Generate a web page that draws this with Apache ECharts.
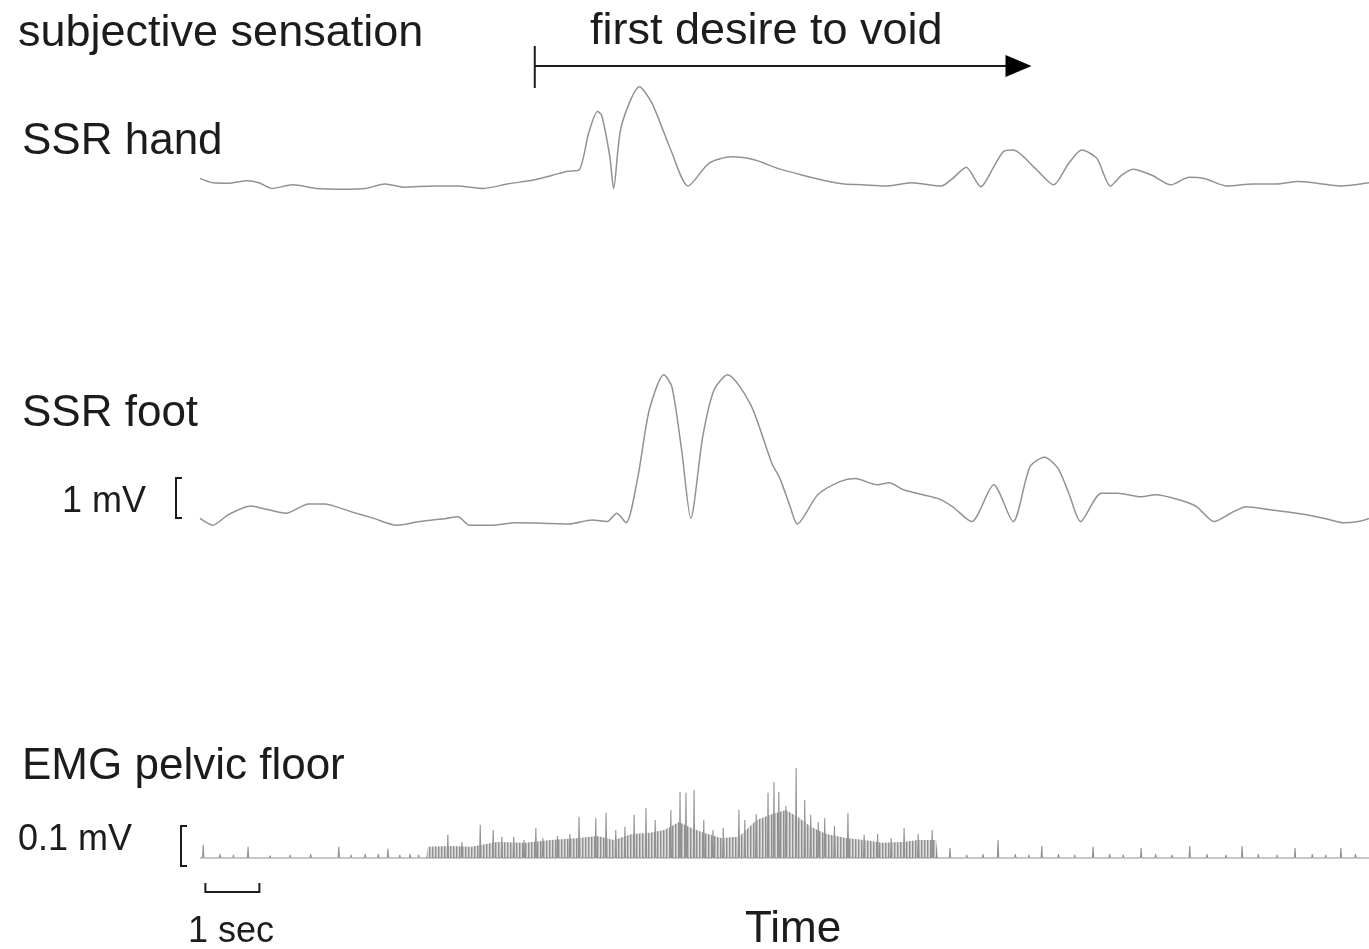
<!DOCTYPE html>
<html>
<head>
<meta charset="utf-8">
<title>SSR and EMG during bladder filling</title>
<script src="https://cdn.jsdelivr.net/npm/echarts@6/dist/echarts.min.js"></script>
<style>
    html, body { margin: 0; background: #fff; }
    #chart { width: 1369px; height: 949px; }
</style>
</head>
<body>
<div id="chart"></div>
<script>
// time in seconds from the start of the trace, amplitudes in mV
const handTime = [0, 0.24, 0.52, 0.87, 1.09, 1.33, 1.72, 2.15, 2.65, 3.07, 3.43, 3.78, 4.33, 4.76, 5.26, 5.69,
    6.18, 6.53, 6.81, 7.02, 7.2, 7.36, 7.44, 7.59, 7.66, 7.8, 8.14, 8.37, 8.72, 9.04, 9.43, 9.85, 10.28, 10.7,
    11.16, 11.65, 11.93, 12.27, 12.69, 13.18, 13.73, 13.94, 14.19, 14.46, 14.7, 14.88, 15.06, 15.47, 15.81,
    16.09, 16.33, 16.61, 16.86, 17.07, 17.28, 17.63, 17.98, 18.32, 18.6, 19.02, 19.5, 19.93, 20.33, 20.69, 21.11, 21.65];
const handMv = [0.14, 0.03, 0.02, 0.08, 0.03, -0.11, -0.02, -0.11, -0.13, -0.11, 0, -0.08, -0.05, -0.05, -0.11, 0,
    0.1, 0.22, 0.32, 0.35, 1.28, 1.81, 1.72, 0.68, -0.11, 1.43, 2.43, 2.02, 0.85, -0.05, 0.52, 0.68, 0.6, 0.39,
    0.22, 0.06, 0, -0.02, -0.05, 0.03, -0.05, 0.14, 0.42, -0.07, 0.43, 0.81, 0.85, 0.39, -0.02,
    0.52, 0.85, 0.64, -0.05, 0.22, 0.37, 0.22, -0.02, 0.17, 0.14, -0.05, 0, 0, 0.06, 0.02, -0.05, 0.03];

const footTime = [0, 0.24, 0.52, 0.94, 1.23, 1.59, 2.01, 2.3, 2.79, 3.22, 3.64, 4.07, 4.56, 4.78, 4.99, 5.41,
    5.84, 6.33, 6.83, 7.26, 7.54, 7.72, 7.89, 8.11, 8.32, 8.59, 8.74, 8.92, 9.09, 9.31, 9.52, 9.77, 10.2,
    10.59, 10.74, 10.93, 11.06, 11.44, 11.85, 12.13, 12.55, 12.76, 13.04, 13.66, 13.94, 14.29, 14.7, 15.06,
    15.37, 15.64, 15.89, 16.09, 16.31, 16.69, 17.0, 17.42, 17.7, 18.19, 18.46, 18.78, 19.09, 19.37, 19.85,
    20.41, 20.83, 21.18, 21.45, 21.65];
const footMv = [0.04, -0.13, 0.13, 0.35, 0.27, 0.17, 0.4, 0.4, 0.21, 0.04, -0.13, -0.04, 0.04, 0.08, -0.13, -0.13,
    -0.07, -0.08, -0.1, 0, -0.04, 0.17, -0.07, 1.08, 2.75, 3.63, 3.33, 1.75, 0.04, 2.08, 3.25, 3.63, 2.88,
    1.42, 1.04, 0.33, -0.1, 0.63, 0.96, 1.04, 0.88, 0.93, 0.75, 0.54, 0.33, -0.04, 0.88, -0.04,
    1.33, 1.57, 1.29, 0.67, -0.04, 0.67, 0.67, 0.58, 0.63, 0.48, 0.33, -0.04, 0.17, 0.33, 0.25,
    0.15, 0.04, -0.07, -0.04, 0.04];

// EMG: single discharges and the dense interference band
const emgSpikeTime = [0.06, 0.37, 0.62, 0.89, 1.3, 1.67, 2.05, 2.57, 2.8, 3.06, 3.3, 3.48, 3.7, 3.89, 4.05,
    4.59, 4.85, 5.19, 5.43, 5.59, 5.81, 6.0, 6.22, 6.35, 6.62, 6.85, 7.02, 7.33, 7.52, 7.7, 7.87, 8.04, 8.26,
    8.43, 8.72, 8.89, 9.0, 9.15, 9.33, 9.5, 9.69, 9.98, 10.09, 10.3, 10.52, 10.63, 10.72, 10.85, 11.04, 11.2,
    11.31, 11.45, 11.57, 11.75, 12.0, 12.3, 12.55, 12.8, 13.04, 13.3, 13.56,
    13.89, 14.2, 14.5, 14.78, 15.1, 15.35, 15.59, 15.9, 16.2, 16.54, 16.85, 17.1, 17.43, 17.7, 18.0, 18.33,
    18.65, 19.0, 19.3, 19.6, 19.95, 20.28, 20.6, 20.85, 21.13, 21.4];
const emgSpikeMv = [0.033, 0.01, 0.008, 0.028, 0.006, 0.008, 0.01, 0.028, 0.008, 0.01, 0.01, 0.023, 0.008, 0.01, 0.008,
    0.058, 0.04, 0.083, 0.07, 0.053, 0.053, 0.045, 0.075, 0.05, 0.055, 0.06, 0.103, 0.1, 0.113, 0.07, 0.078, 0.108, 0.125,
    0.095, 0.12, 0.165, 0.163, 0.17, 0.095, 0.07, 0.075, 0.12, 0.095, 0.11, 0.163, 0.19, 0.165, 0.13, 0.225, 0.145,
    0.108, 0.09, 0.1, 0.08, 0.113, 0.058, 0.06, 0.05, 0.075, 0.06, 0.07,
    0.025, 0.008, 0.01, 0.045, 0.01, 0.008, 0.03, 0.01, 0.008, 0.028, 0.01, 0.008, 0.025, 0.01, 0.008, 0.03,
    0.01, 0.008, 0.03, 0.01, 0.008, 0.025, 0.01, 0.008, 0.025, 0.01];
const emgBandTime = [4.19, 4.22, 4.6, 5.02, 5.5, 6.02, 6.5, 7.02, 7.35, 7.67, 8.0, 8.33, 8.6, 8.87, 9.1, 9.33,
    9.65, 9.98, 10.31, 10.6, 10.85, 11.1, 11.31, 11.6, 11.96, 12.3, 12.63, 13.0, 13.3, 13.63, 13.67];
const emgBandMv = [0, 0.028, 0.03, 0.028, 0.04, 0.038, 0.045, 0.05, 0.055, 0.045, 0.06, 0.063, 0.07, 0.09, 0.075, 0.063,
    0.05, 0.053, 0.095, 0.11, 0.12, 0.1, 0.078, 0.06, 0.05, 0.045, 0.038, 0.04, 0.045, 0.045, 0];

const traceLabels = ['SSR hand', 'SSR foot', 'EMG pelvic floor'];
const sensation = { label: 'subjective sensation', event: 'first desire to void', from: 6.2, to: 15.4 };
const scaleBars = { ssr: 1, emg: 0.1, time: 1 };

const duration = 21.65;
const traceColor = '#929292';
const ink = '#1c1c1c';
const fontFamily = '"Liberation Sans", Arial, Helvetica, sans-serif';
const bigFont = `44px ${fontFamily}`;
const headFont = `45px ${fontFamily}`;
const smallFont = `36px ${fontFamily}`;

const zip = (xs, ys) => xs.map((x, i) => [x, ys[i]]);

const emgLine = [[0, 0]];
emgSpikeTime.forEach((t, i) => {
    emgLine.push([t - 0.012, 0], [t, emgSpikeMv[i]], [t + 0.012, 0]);
});
emgLine.push([duration, 0]);

// vertical hatch that mimics the dense EMG interference pattern
const hatch = document.createElement('canvas');
hatch.width = 3;
hatch.height = 2;
const hctx = hatch.getContext('2d');
hctx.fillStyle = '#8f8f8f';
hctx.fillRect(0, 0, 1, 2);
hctx.fillStyle = '#bcbcbc';
hctx.fillRect(1, 0, 1, 2);
hctx.fillStyle = '#dedede';
hctx.fillRect(2, 0, 1, 2);

const chart = echarts.init(document.getElementById('chart'), null, { renderer: 'canvas' });

const xAxis = [0, 1, 2].map((gridIndex) => ({
    type: 'value', gridIndex, min: 0, max: duration, show: false,
}));

chart.setOption({
    animation: false,
    backgroundColor: '#ffffff',
    grid: [
        { left: 200, right: 0, top: 60, height: 160 },
        { left: 200, right: 0, top: 340, height: 220 },
        { left: 200, right: 0, top: 740, height: 140 },
    ],
    xAxis,
    yAxis: [
        { type: 'value', gridIndex: 0, min: -0.9, max: 3.1, show: false },
        { type: 'value', gridIndex: 1, min: -1.0, max: 4.5, show: false },
        { type: 'value', gridIndex: 2, min: -0.055, max: 0.295, show: false },
    ],
    series: [
        {
            name: traceLabels[0], type: 'line', xAxisIndex: 0, yAxisIndex: 0,
            data: zip(handTime, handMv), showSymbol: false, smooth: 0.25,
            lineStyle: { color: traceColor, width: 1.5 },
        },
        {
            name: traceLabels[1], type: 'line', xAxisIndex: 1, yAxisIndex: 1,
            data: zip(footTime, footMv), showSymbol: false, smooth: 0.25,
            lineStyle: { color: traceColor, width: 1.5 },
        },
        {
            name: traceLabels[2] + ' band', type: 'line', xAxisIndex: 2, yAxisIndex: 2,
            data: zip(emgBandTime, emgBandMv), showSymbol: false,
            lineStyle: { width: 0 },
            areaStyle: { color: { image: hatch, repeat: 'repeat' }, opacity: 1, origin: 0 },
            z: 1,
        },
        {
            name: traceLabels[2], type: 'line', xAxisIndex: 2, yAxisIndex: 2,
            data: emgLine, showSymbol: false,
            lineStyle: { color: traceColor, width: 1.1 },
            z: 2,
        },
    ],
});

const px = (grid, point) => chart.convertToPixel({ xAxisIndex: grid, yAxisIndex: grid }, point);

const text = (str, x, y, font) => ({
    type: 'text', x, y,
    style: { text: str, font, fill: ink, verticalAlign: 'middle', align: 'left' },
});

const bracket = (grid, lo, hi) => {
    const [, y0] = px(grid, [0, lo]);
    const [, y1] = px(grid, [0, hi]);
    const x = grid === 1 ? 176 : 181;
    return {
        type: 'polyline',
        shape: { points: [[x + 6, y1], [x, y1], [x, y0], [x + 6, y0]] },
        style: { stroke: ink, lineWidth: 2, fill: null },
    };
};

const [secStart, secY] = px(2, [0.1, 0]);
const [secEnd] = px(2, [0.1 + scaleBars.time, 0]);
const [arrowX0] = px(0, [sensation.from, 0]);
const [arrowX1] = px(0, [sensation.to, 0]);

chart.setOption({
    graphic: [
        text(sensation.label, 18, 34, headFont),
        text(sensation.event, 590, 32, headFont),
        text(traceLabels[0], 22, 142, bigFont),
        text(traceLabels[1], 22, 414, bigFont),
        text('1 mV', 62, 502, smallFont),
        text(traceLabels[2], 22, 767, bigFont),
        text('0.1 mV', 18, 840, smallFont),
        text('1 sec', 188, 932, smallFont),
        text('Time', 745, 930, bigFont),
        bracket(1, 0.05, 0.05 + scaleBars.ssr),
        bracket(2, -0.02, -0.02 + scaleBars.emg),
        {
            type: 'polyline',
            shape: { points: [[secStart, secY + 25], [secStart, secY + 34], [secEnd, secY + 34], [secEnd, secY + 25]] },
            style: { stroke: ink, lineWidth: 2, fill: null },
        },
        {
            type: 'line',
            shape: { x1: arrowX0, y1: 46, x2: arrowX0, y2: 88 },
            style: { stroke: ink, lineWidth: 2 },
        },
        {
            type: 'line',
            shape: { x1: arrowX0, y1: 66, x2: arrowX1 - 24, y2: 66 },
            style: { stroke: ink, lineWidth: 2 },
        },
        {
            type: 'polygon',
            shape: { points: [[arrowX1 - 26, 55], [arrowX1, 66], [arrowX1 - 26, 77]] },
            style: { fill: '#000' },
        },
    ],
});
</script>
</body>
</html>
